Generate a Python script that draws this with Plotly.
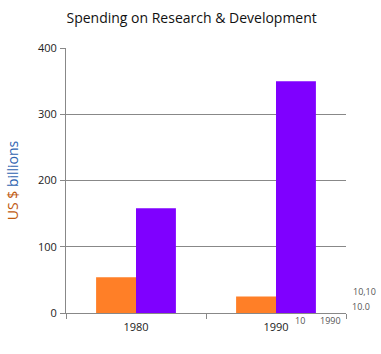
import plotly.graph_objects as go

categories = ["1980", "1990"]
series_a = [54, 25]      # orange series
series_b = [158, 350]    # purple series
y_ticks = [0, 100, 200, 300, 400]

font_family = "Open Sans, DejaVu Sans, sans-serif"

fig = go.Figure()
fig.add_trace(go.Bar(x=categories, y=series_a, marker=dict(color="#FF7F27", line=dict(width=0)),
                     showlegend=False))
fig.add_trace(go.Bar(x=categories, y=series_b, marker=dict(color="#7F00FF", line=dict(width=0)),
                     showlegend=False))

fig.update_layout(
    width=381, height=354,
    margin=dict(l=64, r=35, t=48, b=41),
    paper_bgcolor="white", plot_bgcolor="white",
    barmode="group", bargap=0.43, bargroupgap=0,
    font=dict(family=font_family, size=11, color="#222"),
    title=dict(text="Spending on Research &amp; Development", x=0.503, xanchor="center",
               y=1 - 18 / 354, yanchor="middle",
               font=dict(family=font_family, size=14, color="#111")),
    xaxis=dict(
        type="category", showline=True, linecolor="#888", linewidth=1,
        ticks="outside", tickson="boundaries", ticklen=5, tickcolor="#888",
        showgrid=False, tickfont=dict(size=11, color="#222"), ticklabelstandoff=4,
    ),
    yaxis=dict(
        range=[0, 400], tickvals=y_ticks, showline=True, linecolor="#888", linewidth=1,
        ticks="outside", ticklen=5, tickcolor="#888",
        showgrid=True, gridcolor="#888", gridwidth=1, zeroline=False,
        tickfont=dict(size=11, color="#222"), ticklabelstandoff=1,
        title=dict(text="<span style='color:#C05A10'>US $</span> <span style='color:#2E63B0'>billions</span>",
                   font=dict(family=font_family, size=14), standoff=16),
    ),
)

# small stray labels seen in the bottom-right of the reference
for txt, xx, yy in [("10", 0.835, -0.03), ("1990", 0.943, -0.03), ("10,10", 1.067, 0.08), ("10.0", 1.053, 0.025)]:
    fig.add_annotation(text=txt, x=xx, y=yy, xref="paper", yref="paper", showarrow=False,
                       xanchor="center", yanchor="middle", font=dict(size=9, color="#555"))

fig.write_html("out.html")
